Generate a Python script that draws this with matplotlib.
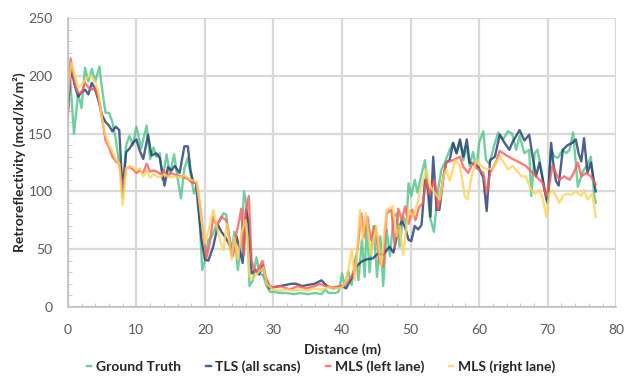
"""Retroreflectivity profiles along the test section."""

import matplotlib
matplotlib.use("Agg")
import matplotlib.pyplot as plt
from matplotlib.ticker import MultipleLocator

# ground truth
gt_dist = [0, 0.3, 0.9, 1.5, 2.0, 2.5, 3.0, 3.5, 4.0, 4.6,
           5.0, 5.5, 6.0, 6.5, 7.0, 7.4, 7.8, 8.0, 8.5, 9.0,
           9.5, 10.0, 10.7, 11.0, 11.5, 12.0, 12.5, 12.9, 13.4, 13.8,
           14.4, 14.9, 15.5, 16.0, 16.5, 17.0, 17.5, 18.0, 18.4, 18.8,
           19.2, 19.6, 20.0, 20.5, 21.0, 21.6, 22.2, 22.7, 23.1, 23.5,
           23.9, 24.3, 24.8, 25.3, 25.7, 26.1, 26.5, 27.0, 27.5, 28.0,
           28.5, 29.0, 29.5, 30, 31, 32, 33, 34, 35, 36,
           37, 37.6, 38, 39, 39.5, 40.0, 40.4, 40.9, 41.4, 42.0,
           42.4, 42.9, 43.3, 43.6, 44.0, 44.6, 45.1, 45.6, 46.0, 46.5,
           47.0, 47.5, 48.0, 48.4, 48.9, 49.4, 49.7, 50.1, 50.6, 51.0,
           51.6, 52.1, 52.8, 53.4, 54.0, 54.5, 55.0, 55.7, 56.2, 56.7,
           57.2, 57.7, 58.2, 58.6, 59.1, 59.6, 60.0, 60.6, 61.0, 61.5,
           62.3, 62.8, 63.5, 64.2, 64.8, 65.4, 65.9, 66.6, 67.3, 67.6,
           68.1, 68.5, 69.0, 69.5, 70.0, 70.5, 71.0, 71.5, 72.2, 72.7,
           73.2, 73.7, 74.4, 75.1, 75.8, 76.3, 76.8, 77.0]
gt_vals = [165, 200, 150, 185, 172, 207, 195, 206, 195, 208,
           188, 168, 168, 160, 145, 128, 115, 95, 140, 148,
           140, 156, 137, 145, 157, 128, 138, 130, 133, 110,
           132, 115, 132, 112, 94, 120, 129, 112, 98, 105,
           80, 32, 40, 58, 61, 70, 75, 81, 80, 62,
           48, 65, 32, 55, 100, 87, 18, 23, 43, 29,
           27, 18, 13, 13, 12, 12, 11, 12, 11, 12,
           11, 15, 12, 12, 13, 29, 18, 31, 19, 44,
           23, 58, 26, 75, 30, 70, 26, 61, 18, 67,
           44, 77, 81, 52, 78, 72, 107, 96, 110, 99,
           115, 127, 78, 65, 101, 119, 125, 136, 142, 133,
           143, 127, 139, 122, 134, 120, 142, 152, 127, 124,
           142, 151, 145, 152, 150, 136, 148, 133, 136, 96,
           133, 136, 121, 101, 93, 136, 130, 129, 136, 133,
           136, 151, 104, 117, 123, 130, 96, 90]

# TLS (all scans)
tls_dist = [0, 0.45, 1.0, 1.5, 2.0, 2.5, 3.0, 3.5, 4.0, 4.5,
            5.0, 5.5, 6.0, 6.5, 7.0, 7.5, 7.8, 8.0, 8.5, 9.0,
            9.5, 10.0, 10.5, 11.0, 11.7, 12.2, 12.9, 13.4, 13.8, 14.1,
            14.6, 15.1, 15.6, 16.3, 17.0, 17.5, 17.9, 18.3, 18.7, 19.0,
            19.5, 20.0, 20.5, 21.2, 21.9, 22.4, 22.9, 23.5, 24.0, 24.6,
            25.1, 25.5, 26.0, 26.4, 26.8, 27.4, 27.9, 28.4, 28.8, 29.4,
            30.0, 30.9, 31.8, 32.6, 33.3, 34.2, 35.0, 36.0, 37.0, 37.8,
            38.7, 39.4, 40.0, 40.6, 41.4, 42.1, 42.8, 43.5, 44.5, 45.2,
            46.0, 46.9, 47.5, 48.0, 48.7, 49.2, 49.7, 50.1, 50.6, 51.1,
            51.6, 52.1, 52.6, 52.9, 53.3, 53.8, 54.2, 54.8, 55.2, 55.7,
            56.2, 56.7, 57.2, 57.7, 58.2, 58.6, 59.4, 59.9, 60.6, 61.1,
            61.6, 62.3, 63.0, 63.7, 64.4, 64.9, 65.9, 66.6, 67.3, 67.8,
            68.3, 68.8, 69.3, 69.8, 70.0, 70.5, 70.8, 71.2, 71.6, 72.2,
            72.9, 73.6, 74.1, 74.5, 74.9, 75.3, 75.8, 76.3, 77.0]
tls_vals = [170, 207, 192, 182, 186, 188, 184, 194, 188, 178,
            166, 160, 157, 152, 156, 153, 120, 100, 134, 137,
            142, 145, 135, 128, 149, 131, 133, 129, 116, 105,
            121, 118, 122, 116, 139, 139, 118, 108, 107, 87,
            58, 41, 40, 52, 71, 65, 61, 55, 45, 61,
            49, 38, 84, 72, 29, 32, 28, 36, 25, 16,
            17, 18, 19, 20, 20, 18, 19, 20, 23, 18,
            16, 17, 18, 16, 25, 35, 39, 41, 42, 46,
            45, 52, 47, 61, 75, 69, 58, 57, 70, 67,
            71, 110, 101, 78, 130, 84, 84, 113, 125, 127,
            142, 133, 145, 130, 145, 125, 123, 121, 112, 83,
            127, 130, 149, 142, 136, 143, 153, 144, 149, 130,
            113, 125, 110, 93, 90, 142, 125, 109, 105, 136,
            140, 142, 145, 133, 126, 146, 116, 125, 100]

# MLS (left lane)
mls_l_dist = [0, 0.4, 1.0, 1.5, 2.0, 2.5, 3.0, 3.5, 4.0, 4.5,
              5.0, 5.5, 6.0, 6.5, 7.0, 7.5, 8.0, 8.5, 9.0, 9.5,
              10.0, 10.5, 11.0, 11.5, 12.0, 12.5, 13.0, 13.5, 14.0, 14.5,
              15.0, 15.8, 16.5, 17.0, 17.5, 18.0, 18.8, 19.3, 19.8, 20.2,
              20.7, 21.2, 21.7, 22.4, 23.1, 23.6, 24.1, 24.5, 25.0, 25.3,
              25.7, 26.0, 26.4, 26.8, 27.3, 27.8, 28.4, 28.9, 29.5, 30.0,
              31.0, 32.4, 33.5, 34.8, 36.0, 36.8, 37.5, 38.5, 40.0, 40.6,
              41.4, 41.9, 42.3, 42.8, 43.2, 43.7, 44.2, 44.8, 45.5, 46.0,
              46.5, 47.2, 47.7, 48.2, 48.7, 49.2, 49.7, 50.2, 50.7, 51.2,
              51.8, 52.3, 52.8, 53.5, 54.0, 54.8, 55.2, 56.2, 57.2, 57.7,
              58.4, 59.1, 59.9, 60.6, 61.1, 61.6, 62.5, 63.0, 63.5, 64.0,
              64.9, 65.9, 66.8, 67.8, 68.8, 69.3, 69.8, 70.2, 70.7, 71.2,
              71.7, 72.4, 73.2, 73.8, 74.4, 74.9, 75.6, 76.3, 77.0]
mls_l_vals = [165, 215, 194, 185, 185, 194, 190, 188, 190, 180,
              163, 144, 138, 130, 126, 124, 102, 120, 121, 119,
              116, 118, 116, 124, 117, 118, 117, 115, 118, 113,
              116, 114, 113, 112, 111, 108, 107, 87, 61, 42,
              55, 78, 70, 78, 75, 58, 44, 61, 75, 85,
              45, 85, 96, 40, 30, 33, 40, 25, 18, 17,
              18, 15, 18, 16, 18, 20, 18, 17, 18, 20,
              26, 35, 52, 81, 60, 78, 58, 70, 38, 35,
              81, 84, 52, 85, 75, 87, 72, 84, 75, 86,
              90, 110, 98, 110, 84, 113, 125, 127, 130, 121,
              116, 125, 119, 116, 98, 116, 126, 135, 133, 131,
              128, 125, 122, 116, 110, 107, 96, 105, 122, 116,
              110, 113, 110, 116, 125, 113, 116, 113, 106]

# MLS (right lane)
mls_r_dist = [0, 0.5, 1.0, 1.5, 2.0, 2.5, 3.0, 3.5, 4.0, 4.5,
              5.0, 5.5, 6.0, 6.5, 7.0, 7.5, 8.0, 8.5, 9.0, 9.5,
              10.0, 10.5, 11.0, 11.5, 12.0, 12.5, 13.0, 13.5, 14.0, 14.5,
              15.0, 15.8, 16.5, 17.0, 17.5, 18.0, 18.8, 19.2, 19.5, 20.0,
              20.6, 21.2, 21.7, 22.2, 22.7, 23.2, 23.9, 24.3, 24.8, 25.3,
              25.9, 26.2, 26.5, 27.0, 27.5, 28.0, 28.5, 29.0, 29.5, 30.0,
              31.0, 32.0, 33.0, 34.0, 35.0, 36.0, 37.0, 38.0, 39.0, 40.0,
              40.6, 41.4, 41.9, 42.6, 43.0, 43.5, 44.2, 45.0, 45.7, 46.5,
              47.4, 48.0, 48.4, 48.9, 49.7, 50.4, 51.0, 51.4, 52.3, 52.9,
              53.6, 54.3, 54.8, 55.2, 55.7, 56.5, 57.2, 57.9, 58.3, 58.9,
              59.6, 60.3, 61.1, 62.0, 63.0, 63.6, 64.2, 64.9, 65.6, 66.2,
              66.8, 67.6, 68.2, 68.8, 69.3, 69.8, 70.2, 70.7, 71.2, 71.7,
              72.2, 72.7, 73.4, 74.1, 74.9, 75.3, 75.8, 76.5, 77.0]
mls_r_vals = [185, 211, 200, 190, 192, 196, 200, 199, 195, 185,
              162, 148, 140, 135, 128, 124, 88, 120, 122, 121,
              118, 120, 113, 118, 112, 115, 113, 112, 115, 113,
              112, 113, 112, 114, 112, 110, 108, 90, 75, 55,
              68, 84, 70, 58, 49, 72, 41, 60, 41, 63,
              75, 60, 26, 24, 28, 31, 34, 20, 17, 15,
              14, 15, 14, 15, 14, 16, 15, 17, 16, 17,
              22, 49, 23, 84, 58, 81, 45, 70, 35, 84,
              87, 61, 70, 45, 84, 78, 90, 101, 119, 104,
              98, 93, 113, 119, 109, 127, 122, 96, 93, 113,
              127, 122, 119, 120, 130, 125, 119, 122, 117, 113,
              113, 101, 98, 101, 93, 78, 98, 101, 96, 90,
              96, 98, 97, 100, 96, 101, 93, 98, 78]

series = [
    ("Ground Truth", gt_dist, gt_vals, "#4cc387"),
    ("TLS (all scans)", tls_dist, tls_vals, "#1f3a6e"),
    ("MLS (left lane)", mls_l_dist, mls_l_vals, "#ff5a5a"),
    ("MLS (right lane)", mls_r_dist, mls_r_vals, "#ffd25a"),
]

plt.rcParams["font.family"] = ["Lato", "DejaVu Sans"]

fig = plt.figure(figsize=(6.34, 3.77), dpi=100)
ax = fig.add_axes([0.107, 0.186, 0.865, 0.766])

for label, d, v, color in series:
    ax.plot(d, v, color=color, lw=1.7, alpha=0.8, label=label)

ax.set_xlim(0, 80)
ax.set_ylim(0, 250)
ax.xaxis.set_major_locator(MultipleLocator(10))
ax.xaxis.set_minor_locator(MultipleLocator(2))
ax.yaxis.set_major_locator(MultipleLocator(50))
ax.yaxis.set_minor_locator(MultipleLocator(10))
ax.grid(which="major", color="#d9d9d9", lw=1.6)
ax.set_axisbelow(True)
for side in ("top", "right"):
    ax.spines[side].set_visible(False)
for side in ("left", "bottom"):
    ax.spines[side].set_color("#bfbfbf")
    ax.spines[side].set_linewidth(1.2)
ax.tick_params(which="both", direction="in", colors="#bfbfbf", labelcolor="#595959",
               labelsize=10)
ax.tick_params(which="major", length=0)
ax.tick_params(axis="x", which="major", pad=12)
ax.tick_params(axis="y", which="major", pad=11)
ax.tick_params(which="minor", length=3)

ax.set_xlabel("Distance (m)", fontsize=10, fontweight="bold", color="#262626")
ax.set_ylabel("Retroreflectivity (mcd/lx/m²)", fontsize=10, fontweight="bold",
              color="#262626")
ax.xaxis.set_label_coords(0.5, -0.125)
ax.yaxis.set_label_coords(-0.077, 0.5)

leg = fig.legend(loc="center", bbox_to_anchor=(0.507, 0.027), ncol=4, frameon=False,
                 handlelength=0.3, handletextpad=0.35, columnspacing=1.8,
                 prop={"weight": "bold", "size": 10})
for txt in leg.get_texts():
    txt.set_color("#262626")

fig.savefig("out.png", dpi=100)
